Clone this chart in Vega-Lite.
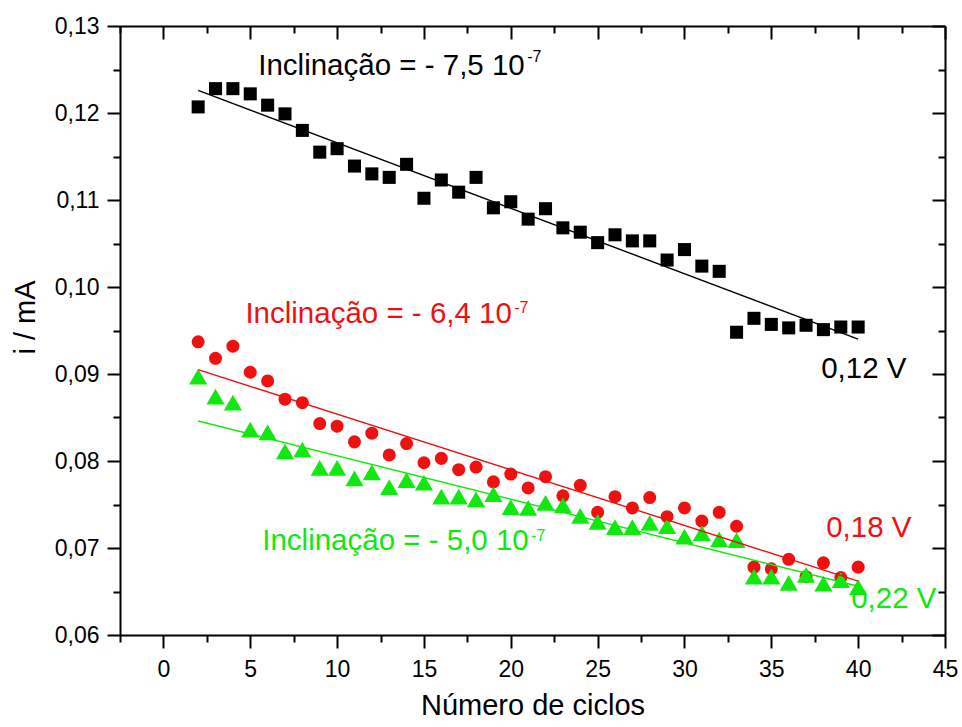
{
  "$schema": "https://vega.github.io/schema/vega-lite/v6.json",
  "autosize": "none",
  "width": 825,
  "height": 609,
  "padding": {"left": 120, "top": 26, "right": 17, "bottom": 92},
  "background": "white",
  "config": {
    "font": "Liberation Sans",
    "view": {"stroke": null},
    "axis": {"grid": false, "domainColor": "black", "domainWidth": 2, "tickColor": "black", "tickWidth": 2, "labelColor": "black", "titleColor": "black", "labelFont": "Liberation Sans", "titleFont": "Liberation Sans", "titleFontWeight": "normal", "labelOverlap": false, "labelBound": false, "labelFlush": false}
  },
  "datasets": {
    "pts": [
      {"ciclo": 2, "i": 0.1207, "serie": "0,12 V"},
      {"ciclo": 3, "i": 0.1228, "serie": "0,12 V"},
      {"ciclo": 4, "i": 0.1228, "serie": "0,12 V"},
      {"ciclo": 5, "i": 0.1222, "serie": "0,12 V"},
      {"ciclo": 6, "i": 0.1209, "serie": "0,12 V"},
      {"ciclo": 7, "i": 0.1199, "serie": "0,12 V"},
      {"ciclo": 8, "i": 0.118, "serie": "0,12 V"},
      {"ciclo": 9, "i": 0.1155, "serie": "0,12 V"},
      {"ciclo": 10, "i": 0.1159, "serie": "0,12 V"},
      {"ciclo": 11, "i": 0.1139, "serie": "0,12 V"},
      {"ciclo": 12, "i": 0.113, "serie": "0,12 V"},
      {"ciclo": 13, "i": 0.1126, "serie": "0,12 V"},
      {"ciclo": 14, "i": 0.1141, "serie": "0,12 V"},
      {"ciclo": 15, "i": 0.1102, "serie": "0,12 V"},
      {"ciclo": 16, "i": 0.1123, "serie": "0,12 V"},
      {"ciclo": 17, "i": 0.1109, "serie": "0,12 V"},
      {"ciclo": 18, "i": 0.1126, "serie": "0,12 V"},
      {"ciclo": 19, "i": 0.1091, "serie": "0,12 V"},
      {"ciclo": 20, "i": 0.1098, "serie": "0,12 V"},
      {"ciclo": 21, "i": 0.1078, "serie": "0,12 V"},
      {"ciclo": 22, "i": 0.109, "serie": "0,12 V"},
      {"ciclo": 23, "i": 0.1068, "serie": "0,12 V"},
      {"ciclo": 24, "i": 0.1063, "serie": "0,12 V"},
      {"ciclo": 25, "i": 0.1051, "serie": "0,12 V"},
      {"ciclo": 26, "i": 0.106, "serie": "0,12 V"},
      {"ciclo": 27, "i": 0.1053, "serie": "0,12 V"},
      {"ciclo": 28, "i": 0.1053, "serie": "0,12 V"},
      {"ciclo": 29, "i": 0.1031, "serie": "0,12 V"},
      {"ciclo": 30, "i": 0.1043, "serie": "0,12 V"},
      {"ciclo": 31, "i": 0.1024, "serie": "0,12 V"},
      {"ciclo": 32, "i": 0.1018, "serie": "0,12 V"},
      {"ciclo": 33, "i": 0.0948, "serie": "0,12 V"},
      {"ciclo": 34, "i": 0.0964, "serie": "0,12 V"},
      {"ciclo": 35, "i": 0.0957, "serie": "0,12 V"},
      {"ciclo": 36, "i": 0.0953, "serie": "0,12 V"},
      {"ciclo": 37, "i": 0.0956, "serie": "0,12 V"},
      {"ciclo": 38, "i": 0.0951, "serie": "0,12 V"},
      {"ciclo": 39, "i": 0.0954, "serie": "0,12 V"},
      {"ciclo": 40, "i": 0.0954, "serie": "0,12 V"},
      {"ciclo": 2, "i": 0.0937, "serie": "0,18 V"},
      {"ciclo": 3, "i": 0.0918, "serie": "0,18 V"},
      {"ciclo": 4, "i": 0.0932, "serie": "0,18 V"},
      {"ciclo": 5, "i": 0.0902, "serie": "0,18 V"},
      {"ciclo": 6, "i": 0.0892, "serie": "0,18 V"},
      {"ciclo": 7, "i": 0.0871, "serie": "0,18 V"},
      {"ciclo": 8, "i": 0.0867, "serie": "0,18 V"},
      {"ciclo": 9, "i": 0.0843, "serie": "0,18 V"},
      {"ciclo": 10, "i": 0.084, "serie": "0,18 V"},
      {"ciclo": 11, "i": 0.0822, "serie": "0,18 V"},
      {"ciclo": 12, "i": 0.0832, "serie": "0,18 V"},
      {"ciclo": 13, "i": 0.0807, "serie": "0,18 V"},
      {"ciclo": 14, "i": 0.082, "serie": "0,18 V"},
      {"ciclo": 15, "i": 0.0798, "serie": "0,18 V"},
      {"ciclo": 16, "i": 0.0803, "serie": "0,18 V"},
      {"ciclo": 17, "i": 0.079, "serie": "0,18 V"},
      {"ciclo": 18, "i": 0.0793, "serie": "0,18 V"},
      {"ciclo": 19, "i": 0.0776, "serie": "0,18 V"},
      {"ciclo": 20, "i": 0.0785, "serie": "0,18 V"},
      {"ciclo": 21, "i": 0.0769, "serie": "0,18 V"},
      {"ciclo": 22, "i": 0.0782, "serie": "0,18 V"},
      {"ciclo": 23, "i": 0.076, "serie": "0,18 V"},
      {"ciclo": 24, "i": 0.0772, "serie": "0,18 V"},
      {"ciclo": 25, "i": 0.0741, "serie": "0,18 V"},
      {"ciclo": 26, "i": 0.0759, "serie": "0,18 V"},
      {"ciclo": 27, "i": 0.0746, "serie": "0,18 V"},
      {"ciclo": 28, "i": 0.0758, "serie": "0,18 V"},
      {"ciclo": 29, "i": 0.0736, "serie": "0,18 V"},
      {"ciclo": 30, "i": 0.0746, "serie": "0,18 V"},
      {"ciclo": 31, "i": 0.0731, "serie": "0,18 V"},
      {"ciclo": 32, "i": 0.0741, "serie": "0,18 V"},
      {"ciclo": 33, "i": 0.0725, "serie": "0,18 V"},
      {"ciclo": 34, "i": 0.0678, "serie": "0,18 V"},
      {"ciclo": 35, "i": 0.0676, "serie": "0,18 V"},
      {"ciclo": 36, "i": 0.0687, "serie": "0,18 V"},
      {"ciclo": 37, "i": 0.0667, "serie": "0,18 V"},
      {"ciclo": 38, "i": 0.0683, "serie": "0,18 V"},
      {"ciclo": 39, "i": 0.0666, "serie": "0,18 V"},
      {"ciclo": 40, "i": 0.0678, "serie": "0,18 V"},
      {"ciclo": 2, "i": 0.0897, "serie": "0,22 V"},
      {"ciclo": 3, "i": 0.0874, "serie": "0,22 V"},
      {"ciclo": 4, "i": 0.0867, "serie": "0,22 V"},
      {"ciclo": 5, "i": 0.0836, "serie": "0,22 V"},
      {"ciclo": 6, "i": 0.0833, "serie": "0,22 V"},
      {"ciclo": 7, "i": 0.0811, "serie": "0,22 V"},
      {"ciclo": 8, "i": 0.0813, "serie": "0,22 V"},
      {"ciclo": 9, "i": 0.0792, "serie": "0,22 V"},
      {"ciclo": 10, "i": 0.0792, "serie": "0,22 V"},
      {"ciclo": 11, "i": 0.078, "serie": "0,22 V"},
      {"ciclo": 12, "i": 0.0787, "serie": "0,22 V"},
      {"ciclo": 13, "i": 0.077, "serie": "0,22 V"},
      {"ciclo": 14, "i": 0.0778, "serie": "0,22 V"},
      {"ciclo": 15, "i": 0.0775, "serie": "0,22 V"},
      {"ciclo": 16, "i": 0.0759, "serie": "0,22 V"},
      {"ciclo": 17, "i": 0.0759, "serie": "0,22 V"},
      {"ciclo": 18, "i": 0.0756, "serie": "0,22 V"},
      {"ciclo": 19, "i": 0.0762, "serie": "0,22 V"},
      {"ciclo": 20, "i": 0.0747, "serie": "0,22 V"},
      {"ciclo": 21, "i": 0.0746, "serie": "0,22 V"},
      {"ciclo": 22, "i": 0.0752, "serie": "0,22 V"},
      {"ciclo": 23, "i": 0.0749, "serie": "0,22 V"},
      {"ciclo": 24, "i": 0.0737, "serie": "0,22 V"},
      {"ciclo": 25, "i": 0.073, "serie": "0,22 V"},
      {"ciclo": 26, "i": 0.0724, "serie": "0,22 V"},
      {"ciclo": 27, "i": 0.0724, "serie": "0,22 V"},
      {"ciclo": 28, "i": 0.0729, "serie": "0,22 V"},
      {"ciclo": 29, "i": 0.0725, "serie": "0,22 V"},
      {"ciclo": 30, "i": 0.0713, "serie": "0,22 V"},
      {"ciclo": 31, "i": 0.0717, "serie": "0,22 V"},
      {"ciclo": 32, "i": 0.071, "serie": "0,22 V"},
      {"ciclo": 33, "i": 0.0709, "serie": "0,22 V"},
      {"ciclo": 34, "i": 0.0667, "serie": "0,22 V"},
      {"ciclo": 35, "i": 0.0667, "serie": "0,22 V"},
      {"ciclo": 36, "i": 0.066, "serie": "0,22 V"},
      {"ciclo": 37, "i": 0.0669, "serie": "0,22 V"},
      {"ciclo": 38, "i": 0.0659, "serie": "0,22 V"},
      {"ciclo": 39, "i": 0.0663, "serie": "0,22 V"},
      {"ciclo": 40, "i": 0.0655, "serie": "0,22 V"}
    ],
    "fit": [
      {"ciclo": 2, "i": 0.1226, "serie": "0,12 V"},
      {"ciclo": 40, "i": 0.094, "serie": "0,12 V"},
      {"ciclo": 2, "i": 0.0905, "serie": "0,18 V"},
      {"ciclo": 40, "i": 0.0662, "serie": "0,18 V"},
      {"ciclo": 2, "i": 0.0846, "serie": "0,22 V"},
      {"ciclo": 40, "i": 0.0656, "serie": "0,22 V"}
    ],
    "anot": [
      {"ciclo": 5.46, "i": 0.12437, "texto": "Inclinação = - 7,5 10", "serie": "0,12 V"},
      {"ciclo": 4.72, "i": 0.09586, "texto": "Inclinação = - 6,4 10", "serie": "0,18 V"},
      {"ciclo": 5.69, "i": 0.06977, "texto": "Inclinação = - 5,0 10", "serie": "0,22 V"},
      {"ciclo": 37.87, "i": 0.08954, "texto": "0,12 V", "serie": "0,12 V"},
      {"ciclo": 38.16, "i": 0.07126, "texto": "0,18 V", "serie": "0,18 V"},
      {"ciclo": 39.6, "i": 0.06314, "texto": "0,22 V", "serie": "0,22 V"}
    ],
    "sup": [
      {"ciclo": 20.95, "i": 0.12586, "texto": "-7", "serie": "0,12 V"},
      {"ciclo": 20.2, "i": 0.09701, "texto": "-7", "serie": "0,18 V"},
      {"ciclo": 21.17, "i": 0.0708, "texto": "-7", "serie": "0,22 V"}
    ]
  },
  "layer": [
    {
      "data": {"name": "pts"},
      "mark": {"type": "point", "filled": true, "opacity": 1},
      "encoding": {
        "x": {"field": "ciclo", "type": "quantitative",
          "scale": {"domain": [-2.5, 45], "nice": false, "zero": false},
          "axis": {"orient": "bottom", "title": "Número de ciclos", "titleFontSize": 29, "titlePadding": 10,
            "values": [-2.5, 0, 2.5, 5, 7.5, 10, 12.5, 15, 17.5, 20, 22.5, 25, 27.5, 30, 32.5, 35, 37.5, 40, 42.5, 45],
            "tickSize": {"condition": {"test": "datum.value % 5 === 0", "value": 13}, "value": 7},
            "labelExpr": "datum.value % 5 === 0 ? datum.label : ''",
            "labelFontSize": 23, "labelPadding": 10}},
        "y": {"field": "i", "type": "quantitative",
          "scale": {"domain": [0.06, 0.13], "nice": false, "zero": false},
          "axis": {"orient": "left", "title": "i / mA", "titleFontSize": 29, "titlePadding": 14, "titleY": 291,
            "values": [0.06, 0.065, 0.07, 0.075, 0.08, 0.085, 0.09, 0.095, 0.1, 0.105, 0.11, 0.115, 0.12, 0.125, 0.13],
            "tickSize": {"condition": {"test": "abs(datum.value*100 - round(datum.value*100)) < 0.01", "value": 13}, "value": 7},
            "labelExpr": "abs(datum.value*100 - round(datum.value*100)) < 0.01 ? replace(format(datum.value, '.2f'), '.', ',') : ''",
            "labelFontSize": 23, "labelPadding": 8}},
        "shape": {"field": "serie", "type": "nominal", "legend": null,
          "scale": {"domain": ["0,12 V", "0,18 V", "0,22 V"], "range": ["square", "circle", "triangle-up"]}},
        "color": {"field": "serie", "type": "nominal", "legend": null,
          "scale": {"domain": ["0,12 V", "0,18 V", "0,22 V"], "range": ["#000000", "#f01010", "#10e810"]}},
        "size": {"condition": {"test": "datum.serie === '0,22 V'", "value": 330}, "value": 170}
      }
    },
    {
      "data": {"name": "fit"},
      "mark": {"type": "line", "strokeWidth": 1.4},
      "encoding": {
        "x": {"field": "ciclo", "type": "quantitative",
          "axis": {"orient": "top", "title": null, "labels": false,
            "values": [-2.5, 0, 2.5, 5, 7.5, 10, 12.5, 15, 17.5, 20, 22.5, 25, 27.5, 30, 32.5, 35, 37.5, 40, 42.5, 45],
            "tickSize": {"condition": {"test": "datum.value % 5 === 0", "value": -13}, "value": -7}}},
        "y": {"field": "i", "type": "quantitative",
          "axis": {"orient": "right", "title": null, "labels": false,
            "values": [0.06, 0.065, 0.07, 0.075, 0.08, 0.085, 0.09, 0.095, 0.1, 0.105, 0.11, 0.115, 0.12, 0.125, 0.13],
            "tickSize": {"condition": {"test": "abs(datum.value*100 - round(datum.value*100)) < 0.01", "value": -13}, "value": -7}}},
        "detail": {"field": "serie", "type": "nominal"},
        "color": {"field": "serie", "type": "nominal", "legend": null}
      }
    },
    {
      "data": {"name": "anot"},
      "mark": {"type": "text", "align": "left", "baseline": "alphabetic", "fontSize": 29.5},
      "encoding": {
        "x": {"field": "ciclo", "type": "quantitative", "axis": null},
        "y": {"field": "i", "type": "quantitative", "axis": null},
        "text": {"field": "texto", "type": "nominal"},
        "color": {"field": "serie", "type": "nominal", "legend": null}
      }
    },
    {
      "data": {"name": "sup"},
      "mark": {"type": "text", "align": "left", "baseline": "alphabetic", "fontSize": 16},
      "encoding": {
        "x": {"field": "ciclo", "type": "quantitative", "axis": null},
        "y": {"field": "i", "type": "quantitative", "axis": null},
        "text": {"field": "texto", "type": "nominal"},
        "color": {"field": "serie", "type": "nominal", "legend": null}
      }
    }
  ],
  "resolve": {"axis": {"x": "independent", "y": "independent"}}
}
